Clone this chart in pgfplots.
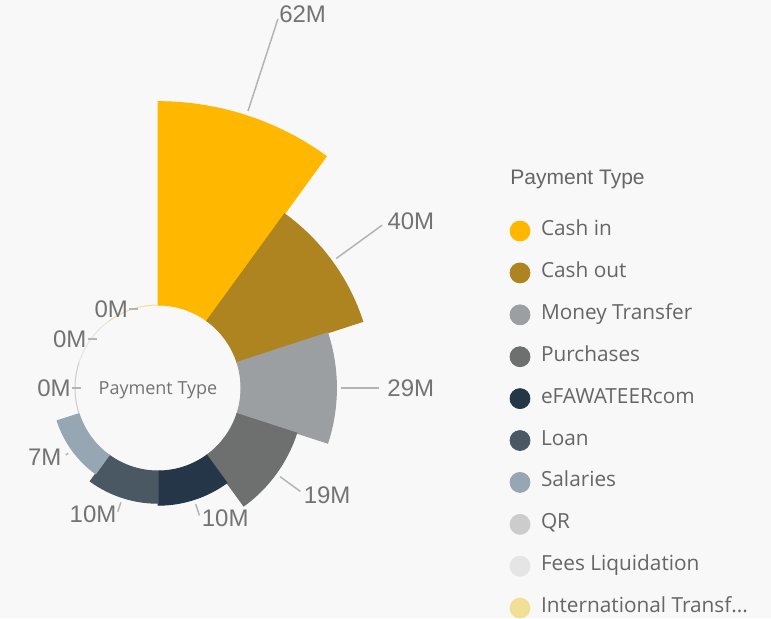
\documentclass[border=0pt]{standalone}
\usepackage{fontspec}
\setmainfont{Liberation Sans}
\newfontfamily\segoe{Open Sans}
\usepackage{pgfplots}
\usepackage{pgfplotstable}
\pgfplotsset{compat=1.18}

\definecolor{bg}{HTML}{F8F8F8}
\definecolor{labtext}{HTML}{737373}
\definecolor{legtext}{HTML}{666666}
\definecolor{leader}{HTML}{B4B4B4}
\definecolor{c0}{HTML}{FFB700}% Cash in
\definecolor{c1}{HTML}{AE8420}% Cash out
\definecolor{c2}{HTML}{9B9FA1}% Money Transfer
\definecolor{c3}{HTML}{6E706F}% Purchases
\definecolor{c4}{HTML}{243647}% eFAWATEERcom
\definecolor{c5}{HTML}{4A5863}% Loan
\definecolor{c6}{HTML}{97A6B3}% Salaries
\definecolor{c7}{HTML}{CCCCCC}% QR
\definecolor{c8}{HTML}{E5E5E5}% Fees Liquidation
\definecolor{c9}{HTML}{F0DF94}% International Transfer

\pgfdeclareplotmark{nothing}{}

% one row per payment type, clockwise from the top
% start = start angle of the 36 degree sector, val in millions,
% lend = end radius of the label line (px), side = 1 right / 0 left,
% lx ly = small nudge of the value label (px)
\pgfplotstableread{
cx cy idx start val lend side lx ly
0 0 0 90 61.8 388 1 -7 5
0 0 1 54 40.2 277 1 -3 4
0 0 2 18 29.0 221 1 0 0
0 0 3 -18 19.1 176 1 -5 -4
0 0 4 -54 10.4 134 1 -6 -3
0 0 5 -90 9.8 130 0 7 -3
0 0 6 -126 7.0 114 0 4 -2
0 0 7 -162 0 0 0 0 0
0 0 8 -198 0 0 0 0 0
0 0 9 -234 0 0 0 0 0
}\sectors

\tikzset{
  lab/.style={font=\fontsize{12}{14}\selectfont, text=labtext, inner xsep=4pt, inner ysep=0pt},
  lead/.style={draw=leader, line width=0.75pt},
}

\begin{document}
\begin{tikzpicture}
\fill[bg] (0pt,0pt) rectangle (385.5pt,309pt);
\begin{axis}[
  at={(0pt,0pt)}, anchor=south west,
  x=0.5pt, y=0.5pt,
  xmin=-158, xmax=613, ymin=-230, ymax=388,
  hide axis, clip=false,
  legend style={at={(axis cs:352,167)}, anchor=north west,
    draw=none, fill=none, inner sep=0pt, outer sep=0pt,
    font=\segoe\fontsize{10.4}{12}\selectfont, text=legtext,
    row sep=8.2pt,
    nodes={inner sep=0pt, text height=7pt, text depth=5.5pt},
    /tikz/every odd column/.append style={column sep=5.5pt}},
  legend cell align=left,
  legend image code/.code={\path[#1] plot[only marks, mark=*, mark size=5pt] coordinates {(5pt,1.5pt)};},
]
\addplot[forget plot, scatter, only marks, mark=nothing,
  point meta=explicit,
  visualization depends on={\thisrow{idx} \as \idxraw},
  visualization depends on={\thisrow{start} \as \sa},
  visualization depends on={\thisrow{val} \as \val},
  visualization depends on={\thisrow{lend} \as \lend},
  visualization depends on={\thisrow{side} \as \side},
  visualization depends on={\thisrow{lx} \as \lx},
  visualization depends on={\thisrow{ly} \as \ly},
  scatter/@pre marker code/.code={%
    \pgfmathtruncatemacro\idx{\idxraw}%
    \pgfmathsetmacro\rin{41.5}%
    \pgfmathsetmacro\rout{0.5*(83+3.29*\val)}%
    \pgfmathsetmacro\ea{\sa-36}%
    \pgfmathsetmacro\ma{\sa-18}%
    \pgfmathsetmacro\nx{0.5*\lx}%
    \pgfmathsetmacro\ny{0.5*\ly}%
    \pgfmathtruncatemacro\isright{\side}%
    \ifnum\isright=1 \def\anc{west}\else\def\anc{east}\fi
    \path[fill=c\idx, draw=c\idx, line width=0.5pt]
      (\sa:\rin pt) -- (\sa:\rout pt)
      arc[start angle=\sa, end angle=\ea, radius=\rout pt]
      -- (\ea:\rin pt)
      arc[start angle=\ea, end angle=\sa, radius=\rin pt] -- cycle;
    \pgfmathtruncatemacro\ispos{\val>0}%
    \ifnum\ispos=1
      \pgfmathsetmacro\ra{\rout+2.5}%
      \pgfmathsetmacro\rb{0.5*\lend}%
      \draw[lead] (\ma:\ra pt) -- (\ma:\rb pt);
      \path (\ma:\rb pt) ++(\nx pt,\ny pt)
        node[lab, anchor=\anc] {\pgfmathprintnumber[fixed,precision=0,assume math mode=true]{\val}M};
    \else
      \draw[lead] (\ma:\rin pt) ++(-1.5pt,0pt) -- ++(4.5pt,0pt);
      \path (\ma:\rin pt) ++(-1.5pt,0pt)
        node[lab, anchor=east, inner xsep=0.5pt] {\pgfmathprintnumber[fixed,precision=0,assume math mode=true]{\val}M};
    \fi
    \begin{scope}},
  scatter/@post marker code/.code={\end{scope}},
] table[x=cx, y=cy, meta=idx] {\sectors};

\node[font=\segoe\fontsize{9}{11}\selectfont, text=labtext, yshift=-1pt] at (axis cs:0,0) {Payment Type};
\node[anchor=base west, inner sep=0pt, font=\fontsize{10.5}{12}\selectfont, text=legtext] at (axis cs:352,204) {Payment Type};

\addlegendimage{draw=c0, fill=c0}\addlegendentry{Cash in}
\addlegendimage{draw=c1, fill=c1}\addlegendentry{Cash out}
\addlegendimage{draw=c2, fill=c2}\addlegendentry{Money Transfer}
\addlegendimage{draw=c3, fill=c3}\addlegendentry{Purchases}
\addlegendimage{draw=c4, fill=c4}\addlegendentry{eFAWATEERcom}
\addlegendimage{draw=c5, fill=c5}\addlegendentry{Loan}
\addlegendimage{draw=c6, fill=c6}\addlegendentry{Salaries}
\addlegendimage{draw=c7, fill=c7}\addlegendentry{QR}
\addlegendimage{draw=c8, fill=c8}\addlegendentry{Fees Liquidation}
\addlegendimage{draw=c9, fill=c9}\addlegendentry{International Transf...}
\end{axis}
\pgfresetboundingbox
\path[use as bounding box] (0pt,0pt) rectangle (385.5pt,309pt);
\end{tikzpicture}
\end{document}
